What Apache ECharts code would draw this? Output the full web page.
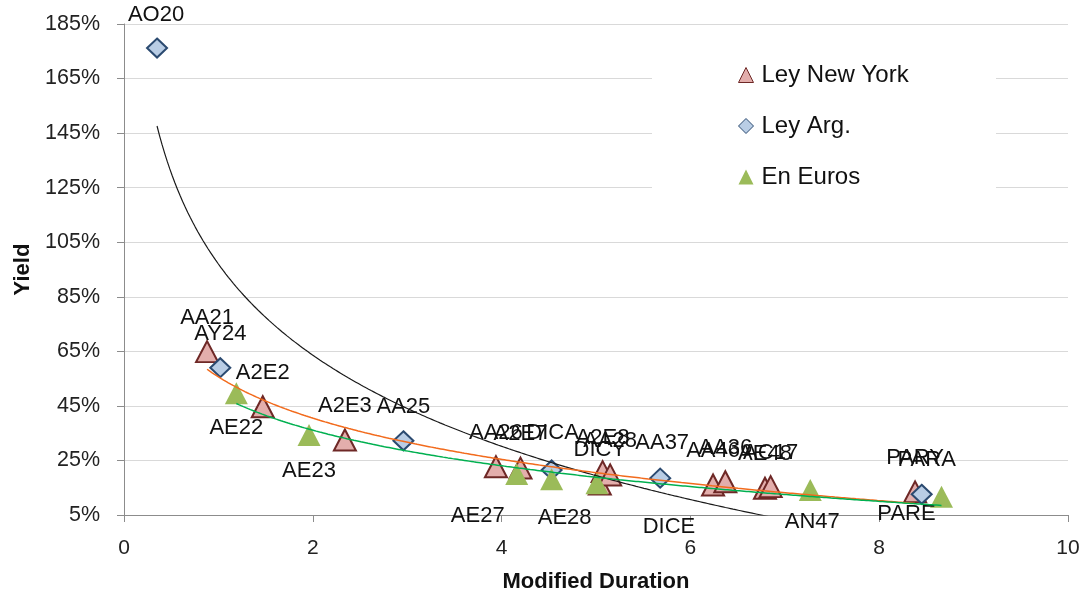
<!DOCTYPE html>
<html>
<head>
<meta charset="utf-8">
<script src="https://cdn.jsdelivr.net/npm/echarts@6/dist/echarts.min.js"></script>
<style>
html,body{margin:0;padding:0;background:#fff;}
#chart{width:1087px;height:598px;}
</style>
</head>
<body>
<div id="chart"></div>
<script>
// ---- data (modified duration, yield %) ----
const nyNames  = ['AA21','A2E2','A2E3','AA26','A2E7','DICY','A2E8','AA28','AA46','AA36','AE48','AC17','PARY'];
const nyDur    = [0.88, 1.47, 2.34, 3.94, 4.20, 5.04, 5.07, 5.15, 6.24, 6.37, 6.79, 6.85, 8.38];
const nyYield  = [64.9, 44.7, 32.5, 22.7, 22.2, 16.4, 20.9, 19.7, 16.0, 17.2, 14.8, 15.4, 13.5];

const argNames = ['AO20','AY24','AA25','DICA','AA37','PARA'];
const argDur   = [0.35, 1.02, 2.96, 4.53, 5.68, 8.45];
const argYield = [176.2, 59.0, 32.2, 21.5, 18.5, 12.6];

const eurNames = ['AE22','AE23','AE27','AE28','DICE','AN47','PARE'];
const eurDur   = [1.19, 1.96, 4.16, 4.53, 5.01, 7.27, 8.66];
const eurYield = [49.6, 34.3, 20.0, 18.1, 16.6, 14.2, 11.7];

const seriesNames = ['Ley New York','Ley Arg.','En Euros'];

// ---- label placement (layout only) ----
const labelAbove = -34, labelBelow = 36;
const labelShift = {
  AO20:[-1,-33], DICA:[1,-37], AA37:[2,-35], PARA:[5,-34],
  AE22:[0,35], AE27:[-39,42], AE28:[13,39], DICE:[72,44], AN47:[2,32], PARE:[-35,17]
};

const FONT = 'Liberation Sans, Arial, sans-serif';

function points(names, xs, ys, dy){
  return names.map((n,i)=>({
    name:n, value:[xs[i], ys[i]],
    label:{offset: labelShift[n] || [0, dy]}
  }));
}

// logarithmic least-squares trendline (as in the source spreadsheet)
function logTrend(xs, ys){
  const n = xs.length;
  const lx = xs.map(Math.log);
  const mx = lx.reduce((s,v)=>s+v,0)/n, my = ys.reduce((s,v)=>s+v,0)/n;
  let sxy=0, sxx=0;
  for(let i=0;i<n;i++){ sxy += (lx[i]-mx)*(ys[i]-my); sxx += (lx[i]-mx)*(lx[i]-mx); }
  const b = sxy/sxx, a = my - b*mx;
  const x0 = Math.min(...xs), x1 = Math.max(...xs);
  const out = [];
  const steps = 300;
  for(let k=0;k<=steps;k++){
    const x = x0 + (x1-x0)*k/steps;
    out.push([x, a + b*Math.log(x)]);
  }
  return out;
}

const labelBase = {
  show:true, position:'inside', formatter:'{b}',
  color:'#111', fontSize:22, fontFamily:FONT
};

function trendSeries(data, color, width){
  return {
    type:'line', data:data, showSymbol:false, symbol:'none', clip:true,
    lineStyle:{color:color, width:width}, z:5, silent:true, legendHoverLink:false,
    tooltip:{show:false}
  };
}

const chart = echarts.init(document.getElementById('chart'), null, {renderer:'canvas'});
chart.setOption({
  animation:false,
  backgroundColor:'#fff',
  textStyle:{fontFamily:FONT},
  grid:{left:124, right:19, top:24, bottom:83, containLabel:false},
  graphic:[{
    type:'rect', left:652, top:45, z:1,
    shape:{width:344, height:165}, style:{fill:'#fff'}
  }],
  legend:{
    data:seriesNames, orient:'vertical', left:733, top:58, z:10,
    itemWidth:15, itemHeight:15, itemGap:27,
    textStyle:{fontSize:24, color:'#111', fontFamily:FONT, padding:[0,0,0,3]},
    itemStyle:{borderWidth:1}
  },
  xAxis:{
    type:'value', min:0, max:10, interval:2,
    name:'Modified Duration', nameLocation:'middle', nameGap:56,
    nameTextStyle:{fontSize:22, fontWeight:'bold', color:'#111', fontFamily:FONT},
    axisLine:{show:true, lineStyle:{color:'#8c8c8c', width:1}},
    axisTick:{show:true, length:7, lineStyle:{color:'#8c8c8c'}},
    axisLabel:{fontSize:21, color:'#222', margin:23, fontFamily:FONT},
    splitLine:{show:false}
  },
  yAxis:{
    type:'value', min:5, max:185, interval:20,
    name:'Yield', nameLocation:'middle', nameGap:84, nameRotate:90,
    nameTextStyle:{fontSize:22, fontWeight:'bold', color:'#111', fontFamily:FONT},
    axisLine:{show:true, lineStyle:{color:'#8c8c8c', width:1}},
    axisTick:{show:true, length:7, lineStyle:{color:'#8c8c8c'}},
    axisLabel:{fontSize:21.5, color:'#222', margin:24, formatter:v=>v+'%', fontFamily:FONT},
    splitLine:{show:true, lineStyle:{color:'#d9d9d9', width:1}}
  },
  series:[
    {
      name:seriesNames[0], type:'scatter', symbol:'triangle', symbolSize:[22,21],
      itemStyle:{color:'#E3AEAC', borderColor:'#6E2826', borderWidth:2, opacity:1},
      label:labelBase, z:2,
      data:points(nyNames, nyDur, nyYield, labelAbove)
    },
    {
      name:seriesNames[1], type:'scatter', symbol:'diamond', symbolSize:[20,19],
      itemStyle:{color:'#B9CDE5', borderColor:'#2B4A70', borderWidth:2, opacity:1},
      label:labelBase, z:3,
      data:points(argNames, argDur, argYield, labelAbove)
    },
    {
      name:seriesNames[2], type:'scatter', symbol:'triangle', symbolSize:[23,22],
      itemStyle:{color:'#9BBB59', opacity:1},
      label:labelBase, z:4,
      data:points(eurNames, eurDur, eurYield, labelBelow)
    },
    trendSeries(logTrend(argDur, argYield), '#1a1a1a', 1.2),
    trendSeries(logTrend(nyDur, nyYield), '#F26B1D', 1.5),
    trendSeries(logTrend(eurDur, eurYield), '#00B050', 1.5)
  ]
});
</script>
</body>
</html>
